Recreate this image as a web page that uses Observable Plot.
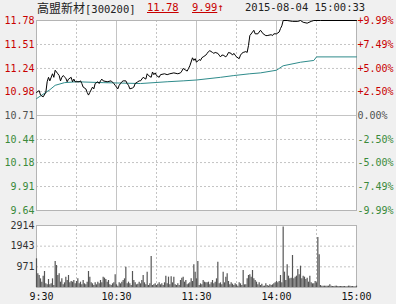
<!DOCTYPE html>
<html><head><meta charset="utf-8">
<script src="https://cdn.jsdelivr.net/npm/d3@7"></script>
<script src="https://cdn.jsdelivr.net/npm/@observablehq/plot@0.6"></script>
<style>
body{margin:0;background:#f0f0f0;}
#wrap{position:relative;width:396px;height:304px;background:#f0f0f0;overflow:hidden;font-family:"DejaVu Sans Mono",monospace;}
#wrap svg{position:absolute;left:0;}
.hdr{position:absolute;top:1px;font-size:10.5px;line-height:13px;white-space:nowrap;color:#222;}
.cjk{font-family:"Noto Sans CJK SC";font-size:12px;}
.red{color:#c80000;}
.ul{text-decoration:underline;}
</style></head><body><div id="wrap"></div>
<script>
const stockName = "高盟新材";
const stockCode = "[300200]";
const lastPrice = "11.78";
const changePct = "9.99";
const stamp = "2015-08-04 15:00:33";

const priceTicks = [11.78, 11.51, 11.24, 10.98, 10.71, 10.44, 10.18, 9.91, 9.64];
const pctLabels = ["+9.99%", "+7.49%", "+5.00%", "+2.50%", "0.00%", "-2.50%", "-5.00%", "-7.49%", "-9.99%"];
const prevClose = 10.71;
const volTicks = [971, 1943, 2914];
const timeTicks = [0, 60, 120, 180, 240];
const timeLabels = ["9:30", "10:30", "11:30", "14:00", "15:00"];

// [minute index since 9:30 (lunch break removed), price]
const priceTrace = [[0,10.97],[2,10.99],[3,10.94],[5,10.92],[7,10.97],[8,11.09],[9,11.14],[10,11.10],[12,11.18],[13,11.14],[14,11.22],[16,11.18],[17,11.16],[18,11.10],[19,11.14],[20,11.16],[22,11.13],[23,11.09],[24,11.12],[26,11.14],[27,11.09],[28,11.12],[29,11.09],[32,11.09],[33,11.10],[34,11.07],[35,11.03],[37,11.01],[38,10.97],[39,10.94],[40,10.97],[42,11.03],[43,11.01],[44,11.07],[46,11.09],[47,11.07],[48,11.10],[49,11.12],[50,11.10],[53,11.09],[56,11.10],[58,11.07],[59,11.05],[61,11.01],[62,11.05],[63,11.07],[64,11.09],[65,11.10],[67,11.10],[68,11.07],[69,11.05],[70,11.01],[72,11.02],[73,11.03],[74,11.07],[76,11.09],[77,11.10],[78,11.10],[80,11.14],[82,11.12],[83,11.18],[84,11.16],[86,11.14],[87,11.20],[88,11.17],[89,11.19],[90,11.16],[92,11.14],[93,11.17],[96,11.18],[98,11.17],[100,11.18],[103,11.19],[106,11.18],[108,11.19],[109,11.21],[110,11.24],[112,11.22],[113,11.21],[114,11.24],[115,11.27],[117,11.36],[118,11.33],[119,11.35],[120,11.31],[122,11.34],[123,11.33],[124,11.36],[125,11.37],[127,11.39],[128,11.41],[129,11.43],[130,11.44],[132,11.42],[133,11.41],[134,11.42],[136,11.41],[137,11.39],[138,11.37],[139,11.39],[140,11.39],[142,11.37],[143,11.39],[144,11.42],[146,11.41],[147,11.39],[148,11.41],[149,11.39],[150,11.37],[152,11.35],[153,11.39],[154,11.41],[155,11.42],[157,11.43],[158,11.42],[159,11.50],[160,11.61],[162,11.65],[163,11.67],[164,11.63],[166,11.63],[167,11.65],[168,11.67],[169,11.65],[170,11.63],[172,11.61],[173,11.61],[176,11.62],[177,11.61],[178,11.63],[180,11.63],[182,11.65],[183,11.69],[184,11.72],[185,11.78],[188,11.78],[192,11.77],[196,11.77],[198,11.78],[200,11.76],[203,11.75],[206,11.77],[208,11.78],[213,11.78],[240,11.78]];

const avgTrace = [[0,10.90],[4,10.94],[10,11.00],[14,11.05],[21,11.08],[30,11.09],[50,11.08],[78,11.07],[98,11.09],[110,11.10],[120,11.11],[138,11.14],[148,11.16],[160,11.18],[168,11.19],[180,11.22],[185,11.27],[198,11.31],[208,11.33],[210,11.37],[240,11.37]];

const volumes = [1348,642,564,407,251,533,752,172,125,376,125,172,407,94,1222,1034,564,642,251,407,125,219,486,329,564,219,282,251,329,172,282,407,172,251,125,329,172,125,251,752,486,219,172,94,219,125,251,172,329,219,486,439,376,251,329,125,94,172,219,595,125,63,219,172,251,329,407,956,172,251,172,94,752,329,219,125,156,251,172,329,564,219,125,721,94,172,1457,94,125,172,94,156,219,125,172,94,219,533,172,486,125,502,219,486,125,94,172,94,329,439,486,251,329,125,172,219,407,282,1066,721,407,1222,94,172,125,329,251,219,219,251,125,219,329,172,251,407,1191,172,219,125,721,219,486,642,282,125,219,156,94,172,125,63,219,172,94,799,125,125,407,564,595,486,799,407,329,251,125,219,94,156,63,63,172,94,63,125,94,125,172,219,282,219,282,564,219,2840,721,329,1066,533,407,439,1504,407,486,533,846,595,1003,407,533,486,376,439,251,533,219,172,172,282,219,2350,1536,94,63,63,63,63,63,63,125,63,47,47,63,63,47,47,47,47,47,47,31,31,63,63,47,47,31,31,63];

const dashedX = [30, 90, 150, 210];
const solidX = [60, 120, 180];
const RED = "#c80000", GREEN = "#3a8a3a", NEUTRAL = "#505050";
const GRID = "#c4c4c4";

const wrap = document.getElementById("wrap");

function span(text, left, cls) {
  const s = document.createElement("div");
  s.className = "hdr " + (cls || "");
  s.style.left = left + "px";
  s.innerHTML = text;
  wrap.appendChild(s);
}
span(`<span class="cjk">${stockName}</span>${stockCode}`, 37, "");
span(`<span class="ul">${lastPrice}</span>`, 147, "red");
span(`<span class="ul">${changePct}</span>↑`, 192, "red");
span(stamp, 245, "");

const priceData = priceTrace.map(([m, p]) => ({m, p}));
const avgData = avgTrace.map(([m, p]) => ({m, p}));
const up = priceTicks.filter(v => v > prevClose);
const down = priceTicks.filter(v => v < prevClose);
const pctOf = v => pctLabels[priceTicks.indexOf(v)];
const fmt = d3.format(".2f");

const common = {fontFamily: "DejaVu Sans Mono", fontSize: "10px", background: "transparent", overflow: "visible"};

const price = Plot.plot({
  width: 396, height: 222,
  marginLeft: 36, marginRight: 40, marginTop: 20, marginBottom: 12,
  style: common,
  x: {domain: [0, 240], axis: null},
  y: {domain: [9.64, 11.78], axis: null},
  marks: [
    Plot.frame({fill: "white", stroke: null}),
    Plot.ruleY(priceTicks.filter(v => v !== prevClose), {stroke: GRID, strokeDasharray: "2,2"}),
    Plot.ruleY([prevClose], {stroke: GRID}),
    Plot.ruleX(dashedX, {stroke: GRID, strokeDasharray: "2,2"}),
    Plot.ruleX(solidX, {stroke: GRID}),
    Plot.frame({stroke: "#b4b4b4"}),
    Plot.line(avgData, {x: "m", y: "p", stroke: "#2e8b8b", strokeWidth: 1}),
    Plot.line(priceData, {x: "m", y: "p", stroke: "#000", strokeWidth: 1}),
    Plot.axisY(up, {anchor: "left", tickSize: 0, tickPadding: 2, tickFormat: fmt, fill: RED, label: null}),
    Plot.axisY([prevClose], {anchor: "left", tickSize: 0, tickPadding: 2, tickFormat: fmt, fill: NEUTRAL, label: null}),
    Plot.axisY(down, {anchor: "left", tickSize: 0, tickPadding: 2, tickFormat: fmt, fill: GREEN, label: null}),
    Plot.axisY(up, {anchor: "right", tickSize: 0, tickPadding: 1, tickFormat: pctOf, fill: RED, label: null}),
    Plot.axisY([prevClose], {anchor: "right", tickSize: 0, tickPadding: 1, tickFormat: pctOf, fill: NEUTRAL, label: null}),
    Plot.axisY(down, {anchor: "right", tickSize: 0, tickPadding: 1, tickFormat: pctOf, fill: GREEN, label: null})
  ]
});
price.style.top = "0px";
wrap.appendChild(price);

const vol = Plot.plot({
  width: 396, height: 89,
  marginLeft: 36, marginRight: 40, marginTop: 10, marginBottom: 17,
  style: common,
  x: {domain: [0, 240], axis: null},
  y: {domain: [0, 2914], axis: null},
  marks: [
    Plot.frame({fill: "white", stroke: null}),
    Plot.ruleY(volTicks.slice(0, 2), {stroke: GRID, strokeDasharray: "2,2"}),
    Plot.ruleX(dashedX, {stroke: GRID, strokeDasharray: "2,2"}),
    Plot.ruleX(solidX, {stroke: GRID}),
    Plot.frame({stroke: "#b4b4b4"}),
    Plot.ruleX(volumes, {x: (d, i) => i, y1: 0, y2: d => d, stroke: "#555", strokeWidth: 1.2}),
    Plot.axisY(volTicks, {anchor: "left", tickSize: 0, tickPadding: 2, tickFormat: d3.format("d"), fill: "#333", label: null}),
    Plot.axisX(timeTicks.slice(1), {anchor: "bottom", tickSize: 0, tickPadding: 5, tickFormat: d => timeLabels[timeTicks.indexOf(d)], fill: "#111", label: null}),
    Plot.axisX(timeTicks.slice(0, 1), {anchor: "bottom", tickSize: 0, tickPadding: 5, dx: 5, tickFormat: d => timeLabels[timeTicks.indexOf(d)], fill: "#111", label: null})
  ]
});
vol.style.top = "215px";
wrap.appendChild(vol);
</script>
</body></html>
